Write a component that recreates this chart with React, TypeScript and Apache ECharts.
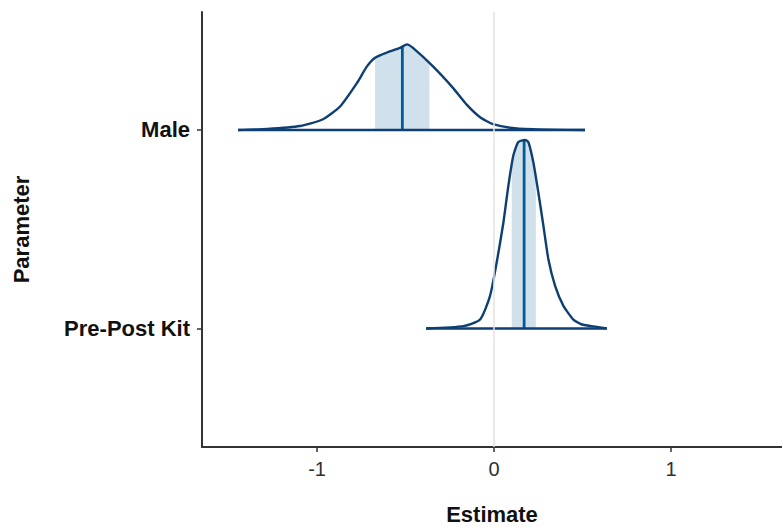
import React, { useEffect, useRef } from "react";
import * as echarts from "echarts";

const parameters = ["Male", "Pre-Post Kit"];
const positions = [2, 1];

const maleX = [-1.446, -1.282, -1.096, -0.966, -0.87, -0.774, -0.718, -0.672, -0.605, -0.531, -0.492, -0.458, -0.345, -0.232, -0.153, -0.079, -0.006, 0.13, 0.316, 0.514];
const maleDensity = [0, 0.005, 0.02, 0.054, 0.118, 0.237, 0.32, 0.364, 0.39, 0.413, 0.431, 0.413, 0.32, 0.212, 0.126, 0.064, 0.029, 0.007, 0.001, 0];

const kitX = [-0.384, -0.173, -0.079, -0.023, 0.015, 0.053, 0.081, 0.109, 0.137, 0.175, 0.194, 0.222, 0.25, 0.279, 0.307, 0.345, 0.392, 0.448, 0.496, 0.581, 0.637];
const kitDensity = [0, 0.012, 0.045, 0.163, 0.332, 0.534, 0.719, 0.871, 0.939, 0.95, 0.939, 0.837, 0.686, 0.517, 0.349, 0.215, 0.114, 0.045, 0.02, 0.008, 0];

const densityX = [maleX, kitX];
const densityY = [maleDensity, kitDensity];

const intervalLow = [-0.672, 0.1];
const intervalHigh = [-0.365, 0.236];
const medians = [-0.518, 0.17];

const xTicks = [-1, 0, 1];

const FONT = "'Liberation Sans', Arial, sans-serif";

function heightAt(xs: number[], ys: number[], x: number): number {
  for (let k = 0; k < xs.length - 1; k++) {
    if (x >= xs[k] && x <= xs[k + 1]) {
      const t = (x - xs[k]) / (xs[k + 1] - xs[k]);
      return ys[k] + t * (ys[k + 1] - ys[k]);
    }
  }
  return 0;
}

export default function App() {
  const ref = useRef<HTMLDivElement>(null);
  useEffect(() => {
    if (!ref.current) return;
    const chart = echarts.init(ref.current, undefined, { renderer: "svg" });
    const option: any = {
      animation: false,
      backgroundColor: "#ffffff",
      grid: { left: 202, right: 0, top: 12, bottom: 80, containLabel: false, outerBoundsMode: "none" },
      xAxis: {
        type: "value",
        min: -1.65,
        max: 1.627,
        splitLine: { show: false },
        axisLine: { show: true, onZero: false, lineStyle: { color: "#333333", width: 2 } },
        axisTick: { show: true, customValues: xTicks, length: 5, lineStyle: { color: "#333333", width: 1.5 } },
        axisLabel: {
          customValues: xTicks,
          formatter: (v: number) => String(v),
          color: "#303030",
          fontFamily: FONT,
          fontSize: 20,
          margin: 12,
        },
        name: "Estimate",
        nameLocation: "middle",
        nameGap: 56,
        nameTextStyle: { fontFamily: FONT, fontSize: 22, fontWeight: "bold", color: "#111111", verticalAlign: "top" },
      },
      yAxis: {
        type: "value",
        min: 0.403,
        max: 2.594,
        splitLine: { show: false },
        axisLine: { show: true, onZero: false, lineStyle: { color: "#333333", width: 2 } },
        axisTick: { show: true, customValues: positions, length: 5, lineStyle: { color: "#333333", width: 1.5 } },
        axisLabel: {
          customValues: positions,
          formatter: (v: number) => parameters[positions.indexOf(v)] ?? "",
          color: "#111111",
          fontFamily: FONT,
          fontSize: 22,
          fontWeight: "bold",
          margin: 12,
        },
        name: "Parameter",
        nameLocation: "middle",
        nameGap: 170,
        nameTextStyle: { fontFamily: FONT, fontSize: 22, fontWeight: "bold", color: "#111111" },
      },
      series: [
        {
          type: "line",
          data: [],
          markLine: {
            silent: true,
            symbol: "none",
            label: { show: false },
            lineStyle: { color: "#e3e3e3", width: 1.5, type: "solid" },
            data: [{ xAxis: 0 }],
          },
        },
        {
          type: "custom",
          coordinateSystem: "cartesian2d",
          data: positions.map((p, i) => [medians[i], p]),
          encode: { x: 0, y: 1 },
          z: 3,
          renderItem: (params: any, api: any) => {
            const i = params.dataIndex;
            const base = positions[i];
            const xs = densityX[i];
            const ys = densityY[i];
            const pt = (x: number, h: number) => api.coord([x, base + h]);
            const lo = intervalLow[i];
            const hi = intervalHigh[i];
            const fillPts: number[][] = [pt(lo, 0), pt(lo, heightAt(xs, ys, lo))];
            xs.forEach((x, k) => {
              if (x > lo && x < hi) fillPts.push(pt(x, ys[k]));
            });
            fillPts.push(pt(hi, heightAt(xs, ys, hi)));
            fillPts.push(pt(hi, 0));
            const curve = xs.map((x, k) => pt(x, ys[k]));
            const m0 = pt(medians[i], 0);
            const m1 = pt(medians[i], heightAt(xs, ys, medians[i]));
            const b0 = pt(xs[0], 0);
            const b1 = pt(xs[xs.length - 1], 0);
            return {
              type: "group",
              children: [
                {
                  type: "polygon",
                  shape: { points: fillPts },
                  style: { fill: "#d1e1ec", stroke: "none" },
                },
                {
                  type: "line",
                  shape: { x1: m0[0], y1: m0[1], x2: m1[0], y2: m1[1] },
                  style: { stroke: "#005b96", lineWidth: 2.8 },
                },
                {
                  type: "polyline",
                  shape: { points: curve, smooth: 0.2 },
                  style: { stroke: "#0d3f73", lineWidth: 2.4, fill: "none" },
                },
                {
                  type: "line",
                  shape: { x1: b0[0], y1: b0[1], x2: b1[0], y2: b1[1] },
                  style: { stroke: "#0d3f73", lineWidth: 2.4 },
                },
              ],
            };
          },
        },
      ],
    };
    chart.setOption(option);
    return () => chart.dispose();
  }, []);
  return <div ref={ref} style={{ width: 782, height: 527, position: "absolute", left: 0, top: 0 }} />;
}
